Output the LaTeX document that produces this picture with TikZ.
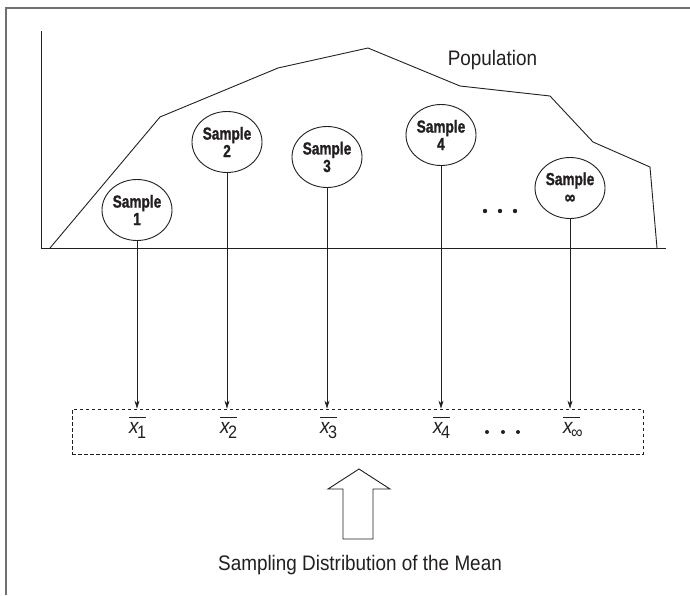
\documentclass[tikz,border=0pt]{standalone}
\usepackage{fontspec}
\setmainfont{Liberation Sans}
\newfontfamily\condf[FakeStretch=0.9]{Liberation Sans}
\newfontfamily\sampf[FakeStretch=0.78,FakeBold=1.2]{Liberation Sans Bold}
\usetikzlibrary{arrows.meta,shapes.geometric}
\definecolor{ink}{HTML}{231F20}
\definecolor{framegray}{HTML}{707070}
\newcommand\xb[1]{\makebox[0pt][l]{\raisebox{0.74em}{\rule{0.8em}{0.045em}}}\textit{x}\kern-0.1em\raisebox{-0.24em}{\fontsize{18}{18}\selectfont #1}}
\tikzset{
  samp/.style={ellipse, draw=ink, line width=0.9, minimum width=70, minimum height=61, inner sep=0, align=center, text=ink, font=\sampf\fontsize{17.5}{17.5}\selectfont},
  xlab/.style={anchor=base west, inner sep=0, text=ink, font=\condf\fontsize{21}{21}\selectfont},
  bigtext/.style={anchor=base, inner sep=0, text=ink, font=\condf\fontsize{21}{21}\selectfont},
  link/.style={ink, line width=0.7, -{Stealth[length=8pt,width=5pt]}},
  thin/.style={ink, line width=0.9}
}
\begin{document}
\begin{tikzpicture}[x=1pt,y=-1pt]
\useasboundingbox (0,0) rectangle (690,595);
% frame
\draw[framegray, line width=1.4] (6,595) -- (6,8) -- (690,8);
% axes
\draw[thin] (41,31) -- (41,248) -- (666,248);
% population curve
\draw[thin] (50,248) -- (160,117) -- (278,68) -- (368,48) -- (460,86) -- (550,96) -- (593,142) -- (650,167) -- (657,248);
\node[bigtext] (pop) at (492.5,65) {Population};
% samples
\node[samp] (s1) at (137,210) {Sample\\1};
\node[samp] (s2) at (227,142) {Sample\\2};
\node[samp] (s3) at (327,157) {Sample\\3};
\node[samp] (s4) at (441,135) {Sample\\4};
\node[samp] (s5) at (570,188) {Sample\\[1pt]{\fontsize{19}{17.5}\selectfont ∞}};
\fill[ink] (485,211) circle (2.2) (500,211) circle (2.2) (515,211) circle (2.2);
% sampling distribution bar
\node[draw=ink, dashed, dash pattern=on 3.5pt off 2.5pt, line width=0.8, minimum width=571, minimum height=45, inner sep=0] (bar) at (357.5,431.5) {};
\foreach \i in {1,...,5}{\draw[link] (s\i.south) -- (s\i.south |- bar.north);}
\node[xlab] (m1) at (129,433) {\xb{1}};
\node[xlab] (m2) at (220,433) {\xb{2}};
\node[xlab] (m3) at (320,433) {\xb{3}};
\node[xlab] (m4) at (433,433) {\xb{4}};
\node[xlab] (m5) at (563,433) {\xb{∞}};
\fill[ink] (487,432) circle (2) (503,432) circle (2) (518,432) circle (2);
% big hollow arrow
\draw[thin, line join=miter] (343,539) -- (343,489) -- (328,489) -- (359,469) -- (390,489) -- (373,489) -- (373,539) -- cycle;
\node[bigtext] (cap) at (360,570) {Sampling Distribution of the Mean};
\end{tikzpicture}
\end{document}
